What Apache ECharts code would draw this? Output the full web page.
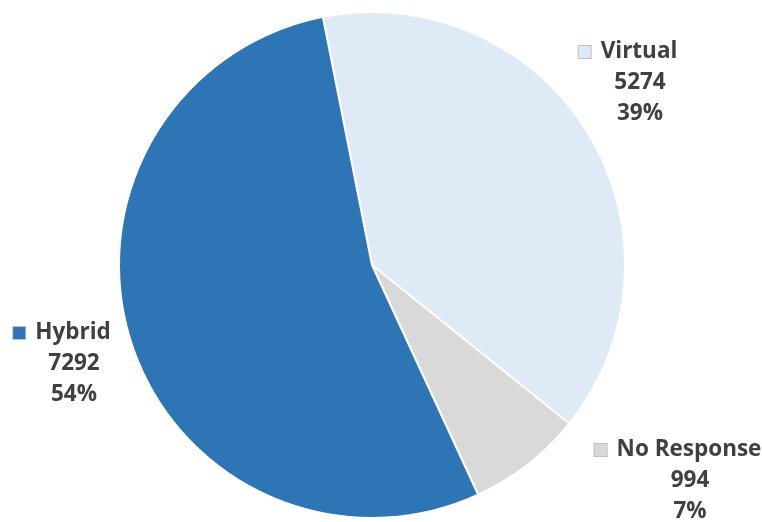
<!DOCTYPE html>
<html><head><meta charset="utf-8">
<script src="https://cdn.jsdelivr.net/npm/echarts@6/dist/echarts.min.js"></script>
<style>html,body{margin:0;padding:0;background:#fff}#c{width:762px;height:522px}</style>
</head><body><div id="c"></div>
<script>
const categories = ['Virtual', 'No Response', 'Hybrid'];
const values = [5274, 994, 7292];
const colors = ['#DEEBF7', '#D9D9D9', '#2E75B6'];
// label anchor (center of value lines) per slice
const labelPos = [[640, 83], [690, 481], [74, 364]];

const chart = echarts.init(document.getElementById('c'));
const font = {fontFamily: 'Open Sans', fontWeight: 'bold', fontSize: 22.5, color: '#404040', lineHeight: 31};
const rich = {
  b: Object.assign({}, font, {padding: [0, 24, 0, 0]}),
  v: Object.assign({}, font),
  s: {width: 10}
};
categories.forEach((c, i) => {
  rich['m' + i] = {width: 12, height: 12, backgroundColor: colors[i], borderColor: '#BFBFBF', borderWidth: 1};
});
chart.setOption({
  animation: false,
  series: [{
    type: 'pie',
    center: [372, 265],
    radius: [0, 253],
    startAngle: 101.2,
    clockwise: true,
    percentPrecision: 0,
    itemStyle: {borderColor: '#fff', borderWidth: 2},
    labelLine: {show: false},
    label: {
      show: true,
      position: 'outside',
      align: 'center',
      overflow: 'none',
      formatter: p => '{m' + p.dataIndex + '|}{s|}{b|' + p.name + '}\n{v|' + p.value + '}\n{v|' + p.percent + '%}',
      rich: rich
    },
    labelLayout: p => ({x: labelPos[p.dataIndex][0], y: labelPos[p.dataIndex][1], align: 'center', verticalAlign: 'middle'}),
    data: categories.map((c, i) => ({name: c, value: values[i], itemStyle: {color: colors[i]}}))
  }]
});
</script></body></html>
